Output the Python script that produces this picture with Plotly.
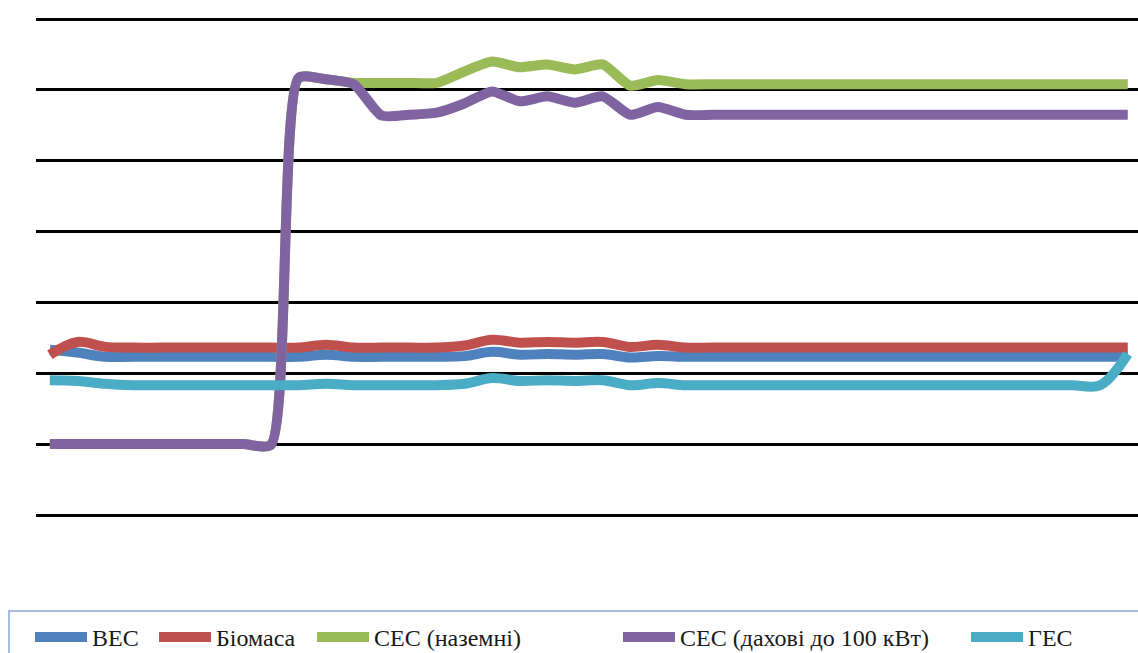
import plotly.graph_objects as go

# Periods along the horizontal axis (40 observation points)
periods = list(range(1, 41))

# Series values (relative units)
ves = [234, 230] + [224] * 8 + [227] + [224] * 4 + [225, 231, 227, 228, 227, 228, 223, 225] + [224] * 17
biomasa = [227, 245, 238] + [237] * 7 + [241] + [237] * 4 + [240, 248, 244, 245, 244, 245, 238, 241] + [237] * 17
ses_dakhovi = [101] * 8 + [100, 617, 615, 608, 564, 565, 568, 581, 598, 584, 591, 582, 591, 565, 576] + [565] * 17
ses_nazemni = [101] * 8 + [100, 617, 615, 610, 610, 610, 610, 626, 640, 632, 636, 629, 636, 606, 614] + [608] * 17
ges = [191, 190, 186] + [184] * 7 + [186] + [184] * 4 + [186, 194, 190, 191, 190, 191, 184, 187] + [184] * 16 + [228]

series = [
    ("ВЕС", ves, "#4F81BD", 1.0),
    ("Біомаса", biomasa, "#C0504D", 1.0),
    ("СЕС (наземні)", ses_nazemni, "#9BBB59", 0.6),
    ("СЕС (дахові до 100 кВт)", ses_dakhovi, "#8064A2", 0.6),
    ("ГЕС", ges, "#4BACC6", 1.0),
]

legend_ids = ["legend", "legend2", "legend3", "legend4", "legend5"]
legend_px = [30, 154, 312, 618, 966]

W, H = 1138, 653
ml, mr, mt, mb = 36, 0, 14, 132
pw = W - ml - mr
ph = H - mt - mb

fig = go.Figure()
for (name, vals, color, smooth), lid in zip(series, legend_ids):
    fig.add_trace(go.Scatter(
        x=periods, y=vals, name=name, mode="lines",
        line=dict(color=color, width=10, shape="spline", smoothing=smooth),
        legend=lid,
    ))

font = dict(family="Liberation Serif", size=24, color="#1a1a1a")
legend_y = -(615 - (mt + ph)) / ph
layout_legends = {}
for lid, px in zip(legend_ids, legend_px):
    layout_legends[lid] = dict(
        x=(px - ml) / pw, y=legend_y, xanchor="left", yanchor="top",
        orientation="h", bgcolor="rgba(0,0,0,0)", borderwidth=0,
        font=font, itemwidth=52, tracegroupgap=0,
    )

fig.update_layout(
    width=W, height=H,
    margin=dict(l=ml, r=mr, t=mt, b=mb, autoexpand=False),
    paper_bgcolor="white", plot_bgcolor="white",
    showlegend=True,
    xaxis=dict(range=[0.5, 40.37], showgrid=False, zeroline=False,
               showticklabels=False, ticks="", showline=False),
    yaxis=dict(range=[-7.33, 707.05], tickvals=[0, 100, 200, 300, 400, 500, 600, 700],
               showgrid=True, gridcolor="black", gridwidth=2.5, zeroline=False,
               showticklabels=False, ticks="", showline=False),
    shapes=[dict(type="rect", xref="paper", yref="paper",
                 x0=(9 - ml) / pw, x1=1.05,
                 y0=-(611 - (mt + ph)) / ph, y1=-0.4,
                 line=dict(color="#A4BDE4", width=2), fillcolor="rgba(0,0,0,0)",
                 layer="below")],
    **layout_legends,
)

fig.write_html("out.html")
